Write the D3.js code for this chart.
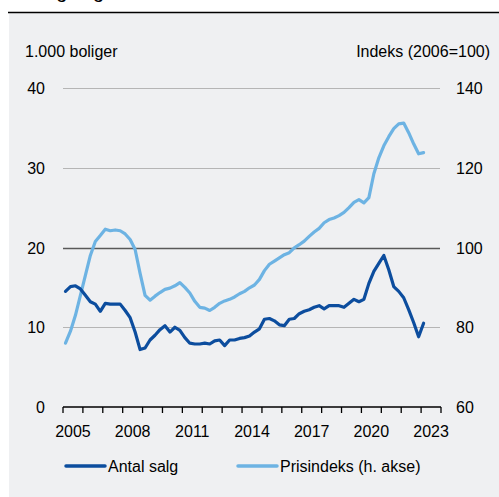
<!DOCTYPE html>
<html>
<head>
<meta charset="utf-8">
<script src="https://cdn.jsdelivr.net/npm/d3@7"></script>
<style>
  body { margin: 0; background: #fff; }
  svg { display: block; font-family: "Liberation Sans", Arial, sans-serif; }
  .lbl { font-size: 16px; fill: #000; }
</style>
</head>
<body>
<script>
// Boligsalg (1.000 stk.) og prisindeks, kvartaler 2005K1 - 2023K1
var startYear = 2005
var salg = [14.5, 15.1, 15.2, 14.8, 14.0, 13.2, 12.9, 12.0, 13.0, 12.9,
            12.9, 12.9, 12.1, 11.2, 9.4, 7.2, 7.4, 8.4, 9.0, 9.7,
            10.2, 9.4, 10.0, 9.6, 8.7, 8.0, 7.9, 7.9, 8.0, 7.9,
            8.3, 8.4, 7.7, 8.4, 8.4, 8.6, 8.7, 8.9, 9.4, 9.8,
            11.0, 11.1, 10.8, 10.3, 10.2, 11.0, 11.1, 11.7, 12.0, 12.2,
            12.5, 12.7, 12.3, 12.7, 12.7, 12.7, 12.5, 13.0, 13.5, 13.2,
            13.5, 15.5, 17.0, 18.0, 19.0, 17.2, 15.1, 14.5, 13.7, 12.2,
            10.6, 8.8, 10.5]
var prisindeks = [76.0, 79.0, 83.0, 88.0, 93.0, 98.0, 101.5, 103.0, 104.6, 104.2,
                  104.4, 104.2, 103.4, 102.0, 99.5, 93.5, 88.0, 86.8, 87.8, 88.7,
                  89.5, 89.8, 90.4, 91.2, 90.0, 88.6, 86.5, 85.0, 84.8, 84.2,
                  85.0, 86.0, 86.6, 87.0, 87.6, 88.4, 89.0, 89.9, 90.6, 92.0,
                  94.2, 95.8, 96.6, 97.4, 98.2, 98.7, 99.9, 100.7, 101.6, 102.8,
                  103.9, 104.8, 106.2, 107.0, 107.4, 108.0, 108.8, 110.0, 111.3, 112.0,
                  111.2, 112.5, 118.5, 122.5, 125.5, 127.8, 129.8, 131.0, 131.2, 128.8,
                  126.0, 123.5, 123.8]
var leftTicks = [0, 10, 20, 30, 40]
var rightTicks = [60, 80, 100, 120, 140]
var yearLabels = [2005, 2008, 2011, 2014, 2017, 2020, 2023]

var W = 499, H = 497
var dark = "#0c4d9e", light = "#6db3e3"

var svg = d3.select("body").append("svg").attr("width", W).attr("height", H)

// baggrund
svg.append("rect").attr("x", 9).attr("y", 13).attr("width", W - 9).attr("height", H - 13)
    .attr("fill", "#eff0f2")
svg.append("line").attr("x1", 8).attr("x2", W).attr("y1", 12.5).attr("y2", 12.5)
    .attr("stroke", "#000").attr("stroke-width", 1.5)
// titel (skaaret af i toppen)
svg.append("text").attr("x", 23).attr("y", -2).style("font-size", "20px").text("Boligsalg")

var x = d3.scaleLinear().domain([startYear, 2024]).range([63, 441])
var y = d3.scaleLinear().domain([0, 40]).range([407, 88])
var y2 = d3.scaleLinear().domain([60, 140]).range([407, 88])

// gitterlinjer
svg.selectAll(".grid").data(leftTicks.filter(function(d) { return d > 0; }))
  .enter().append("line")
    .attr("x1", 63).attr("x2", 440)
    .attr("y1", function(d) { return Math.round(y(d)) + 0.5; })
    .attr("y2", function(d) { return Math.round(y(d)) + 0.5; })
    .attr("stroke", function(d) { return d == 20 ? "#595959" : "#b5b5b5"; })
    .attr("stroke-width", function(d) { return d == 20 ? 1.5 : 1; })

// akser
var gx = svg.append("g").attr("transform", "translate(0,407)")
gx.append("line").attr("x1", 63).attr("x2", 441).attr("stroke", "#000").attr("stroke-width", 1.3)
gx.selectAll(".tk").data(d3.range(startYear, 2025)).enter().append("line")
    .attr("x1", function(d) { return x(d); }).attr("x2", function(d) { return x(d); })
    .attr("y1", 0).attr("y2", 6).attr("stroke", "#000").attr("stroke-width", 1.3)
gx.selectAll(".yl").data(yearLabels).enter().append("text").attr("class", "lbl")
    .attr("x", function(d) { return x(d + 0.5); }).attr("y", 30)
    .attr("text-anchor", "middle").text(function(d) { return d; })

svg.selectAll(".ll").data(leftTicks).enter().append("text").attr("class", "lbl")
    .attr("x", 45).attr("y", function(d) { return y(d) + 6; })
    .attr("text-anchor", "end").text(function(d) { return d; })
svg.selectAll(".rl").data(rightTicks).enter().append("text").attr("class", "lbl")
    .attr("x", 456).attr("y", function(d) { return y2(d) + 6; })
    .text(function(d) { return d; })

svg.append("text").attr("class", "lbl").attr("x", 25).attr("y", 57).text("1.000 boliger")
svg.append("text").attr("class", "lbl").attr("x", 490).attr("y", 57)
    .attr("text-anchor", "end").text("Indeks (2006=100)")

// linjer
function qx(i) { return x(startYear + (i + 0.5) / 4); }
var line1 = d3.line().x(function(d, i) { return qx(i); }).y(function(d) { return y(d); })
var line2 = d3.line().x(function(d, i) { return qx(i); }).y(function(d) { return y2(d); })

svg.append("path").datum(prisindeks).attr("d", line2)
    .attr("fill", "none").attr("stroke", light).attr("stroke-width", 3.2)
    .attr("stroke-linejoin", "round").attr("stroke-linecap", "round")
svg.append("path").datum(salg).attr("d", line1)
    .attr("fill", "none").attr("stroke", dark).attr("stroke-width", 3.2)
    .attr("stroke-linejoin", "round").attr("stroke-linecap", "round")

// legende
var legend = [{name: "Antal salg", color: dark, x: 66}, {name: "Prisindeks (h. akse)", color: light, x: 238}]
var lg = svg.selectAll(".lg").data(legend).enter().append("g")
    .attr("transform", function(d) { return "translate(" + d.x + ",466)"; })
lg.append("line").attr("x1", 0).attr("x2", 39).attr("stroke", function(d) { return d.color; })
    .attr("stroke-width", 3.5).attr("stroke-linecap", "round")
lg.append("text").attr("class", "lbl").attr("x", 42).attr("y", 6).text(function(d) { return d.name; })
</script>
</body>
</html>
